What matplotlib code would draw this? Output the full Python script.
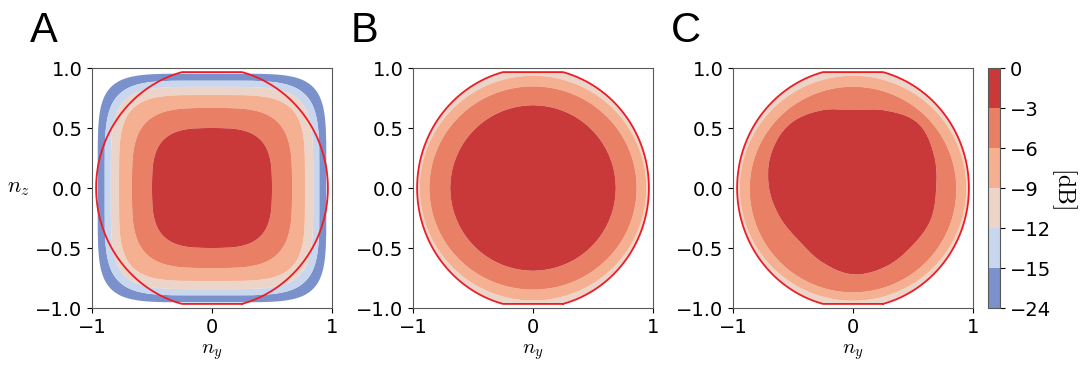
import numpy as np
import matplotlib.pyplot as plt

plt.rcParams['mathtext.fontset'] = 'cm'
plt.rcParams['font.size'] = 14

# contour levels (dB) and the boundary each ring marks, from inside out
levels = [-24, -15, -12, -9, -6, -3, 0]
ring_db = [-3, -6, -9, -12, -15, -24]
band_colors = ['#7a91cc', '#c8d7ee', '#ecd5c8', '#f5b091', '#e97f64', '#c9393a']

# Panel A: rounded-square rings, radius read on the axes and on the diagonal
a_axis = [0.50, 0.667, 0.775, 0.843, 0.895, 0.952]
a_diag = [0.57, 0.775, 0.935, 1.03, 1.10, 1.19]

# Panel B: ring radii at equally spaced angles starting at 0 deg
b_rings = [
    [0.69],
    [0.864, 0.847, 0.864, 0.847],
    [0.944, 0.936, 0.944, 0.938],
    [0.99],
    [1.03],
    [1.10],
]

# Panel C: the -3 dB ring is read every 22.5 deg
c_rings = [
    [0.694, 0.73, 0.765, 0.70, 0.65, 0.70, 0.75, 0.74,
     0.70, 0.655, 0.63, 0.67, 0.72, 0.71, 0.69, 0.70],
    [0.861, 0.844, 0.861, 0.87],
    [0.944, 0.936, 0.944, 0.94],
    [0.99],
    [1.03],
    [1.10],
]

# scan limits (deg) that bound the visible region in B and C
az_lim = 75
el_lim = 75


def squircle(axis_r, diag_r):
    # superellipse ring through the axis and diagonal radii
    p = 1.0 / (0.5 - np.log2(diag_r / axis_r))

    def radius(theta):
        c, s = np.abs(np.cos(theta)), np.abs(np.sin(theta))
        return axis_r / (c ** p + s ** p) ** (1.0 / p)
    return radius


def sampled(samples):
    # periodic Catmull-Rom interpolation of radii sampled at equal angles
    s = np.asarray(samples, dtype=float)
    n = len(s)

    def radius(theta):
        if n == 1:
            return np.full_like(theta, s[0])
        t = np.mod(theta, 2 * np.pi) / (2 * np.pi) * n
        i = np.floor(t).astype(int) % n
        u = t - np.floor(t)
        p0, p1, p2, p3 = s[(i - 1) % n], s[i], s[(i + 1) % n], s[(i + 2) % n]
        return 0.5 * (2 * p1 + (p2 - p0) * u
                      + (2 * p0 - 5 * p1 + 4 * p2 - p3) * u ** 2
                      + (3 * p1 - p0 - 3 * p2 + p3) * u ** 3)
    return radius


def build_field(rings, ny, nz):
    r = np.hypot(ny, nz)
    th = np.arctan2(nz, ny)
    radii = [np.zeros_like(r)] + [ring(th) for ring in rings]
    vals = [0] + ring_db
    # keep falling past the last ring so the field stays continuous
    db = vals[-1] - 60.0 * (r - radii[-1])
    for i in range(len(radii) - 1):
        r0, r1 = radii[i], radii[i + 1]
        m = (r >= r0) & (r < r1)
        frac = (r - r0) / (r1 - r0)
        db[m] = vals[i] + (vals[i + 1] - vals[i]) * frac[m]
    return db


def visible(ny, nz):
    s_az = np.sin(np.deg2rad(az_lim))
    s_el = np.sin(np.deg2rad(el_lim))
    cos_el = np.sqrt(np.clip(1 - nz ** 2, 0, None))
    return (np.abs(nz) <= s_el) & (np.abs(ny) <= s_az * cos_el)


def boundary_curve():
    el = np.deg2rad(np.linspace(-el_lim, el_lim, 200))
    az = np.deg2rad(np.linspace(-az_lim, az_lim, 200))
    ea, aa = np.deg2rad(el_lim), np.deg2rad(az_lim)
    y = np.concatenate([np.sin(aa) * np.cos(el), np.sin(az[::-1]) * np.cos(ea),
                        -np.sin(aa) * np.cos(el[::-1]), np.sin(az) * np.cos(ea)])
    z = np.concatenate([np.sin(el), np.full(200, np.sin(ea)),
                        np.sin(el[::-1]), np.full(200, -np.sin(ea))])
    return np.append(y, y[0]), np.append(z, z[0])


def main():
    grid = np.linspace(-1, 1, 601)
    NY, NZ = np.meshgrid(grid, grid)

    field_a = build_field([squircle(a, d) for a, d in zip(a_axis, a_diag)], NY, NZ)
    field_b = build_field([sampled(s) for s in b_rings], NY, NZ)
    field_c = build_field([sampled(s) for s in c_rings], NY, NZ)
    mask = ~visible(NY, NZ)
    field_b[mask] = np.nan
    field_c[mask] = np.nan

    fig = plt.figure(figsize=(10.88, 3.67), dpi=100)
    lefts = [92, 413, 733]
    bottom, size_w, size_h = 59 / 367, 240 / 1088, 240 / 367
    by, bz = boundary_curve()

    cs = None
    for i, (field, label) in enumerate(zip([field_a, field_b, field_c], 'ABC')):
        ax = fig.add_axes([lefts[i] / 1088, bottom, size_w, size_h])
        cs = ax.contourf(NY, NZ, field, levels=levels, colors=band_colors,
                         antialiased=True)
        ax.plot(by, bz, color='#ee1c24', lw=1.3)
        ax.set_xlim(-1, 1)
        ax.set_ylim(-1, 1)
        ax.set_xticks([-1, 0, 1])
        ax.set_yticks([-1.0, -0.5, 0.0, 0.5, 1.0])
        for sp in ax.spines.values():
            sp.set_color('0.35')
        ax.set_xlabel(r'$n_y$', fontsize=15, labelpad=4)
        if i == 0:
            ax.set_ylabel(r'$n_z$', fontsize=16, rotation=0, labelpad=12, va='center')
        fig.text((lefts[i] - 62) / 1088, 1 - 42 / 367, label, fontsize=30,
                 family='Liberation Sans', ha='left', va='baseline')

    cax = fig.add_axes([988 / 1088, bottom, 12 / 1088, size_h])
    cb = fig.colorbar(cs, cax=cax, ticks=levels)
    cb.outline.set_edgecolor('0.35')
    cb.set_label(r'$[\mathrm{dB}]$', rotation=270, fontsize=17, labelpad=20)

    fig.savefig('out.png', dpi=100)


if __name__ == "__main__":
    main()
